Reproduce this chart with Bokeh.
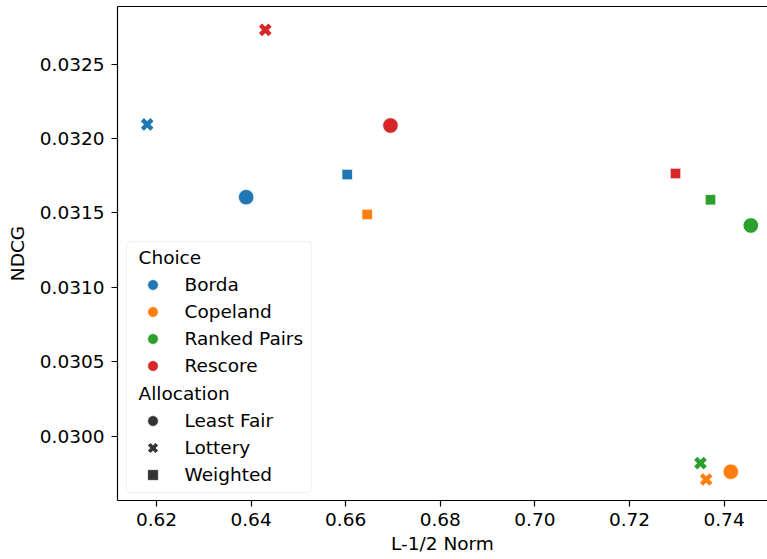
from bokeh.plotting import figure
from bokeh.models import (ColumnDataSource, CDSView, GroupFilter, Legend, LegendItem,
                          BoxAnnotation, FixedTicker, NumeralTickFormatter, LinearAxis, Range1d)
from bokeh.transform import factor_cmap
from bokeh.embed import file_html
from bokeh.resources import INLINE

# ---- data ----
choices = ["Borda", "Copeland", "Ranked Pairs", "Rescore"]
allocations = ["Least Fair", "Lottery", "Weighted"]
choice_colors = ["#1f77b4", "#ff7f0e", "#2ca02c", "#d62728"]

point_choice = ["Borda", "Borda", "Borda",
                "Copeland", "Copeland", "Copeland",
                "Ranked Pairs", "Ranked Pairs", "Ranked Pairs",
                "Rescore", "Rescore", "Rescore"]
point_allocation = ["Least Fair", "Lottery", "Weighted"] * 4
l_half_norm = [0.63896, 0.61803, 0.66032,
               0.74142, 0.73622, 0.66455,
               0.74565, 0.73501, 0.73713,
               0.66947, 0.64300, 0.72973]
ndcg = [0.031606, 0.032094, 0.031758,
        0.029763, 0.029711, 0.031490,
        0.031416, 0.029821, 0.031589,
        0.032087, 0.032729, 0.031765]

x_ticks = [0.62, 0.64, 0.66, 0.68, 0.70, 0.72, 0.74]
y_ticks = [0.0300, 0.0305, 0.0310, 0.0315, 0.0320, 0.0325]
x_limits = (0.61176, 0.74918)
y_limits = (0.029570, 0.032886)

FONT = "DejaVu Sans"
FS = "18.5px"
NAN = float("nan")

source = ColumnDataSource(dict(x=l_half_norm, y=ndcg, choice=point_choice,
                               allocation=point_allocation))

p = figure(width=767, height=559, output_backend="svg", toolbar_location=None,
           x_range=Range1d(*x_limits), y_range=Range1d(*y_limits),
           min_border_left=117, min_border_right=0, min_border_top=6, min_border_bottom=59)
p.outline_line_color = None
p.grid.visible = False
p.background_fill_color = "white"

for ax in (p.xaxis[0], p.yaxis[0]):
    ax.axis_line_color = "black"
    ax.axis_line_width = 1.2
    ax.major_tick_line_color = "black"
    ax.major_tick_line_width = 1.2
    ax.major_tick_out = 6
    ax.major_tick_in = 0
    ax.minor_tick_line_color = None
    ax.major_label_text_font = FONT
    ax.major_label_text_font_size = FS
    ax.major_label_text_color = "black"
    ax.axis_label_text_font = FONT
    ax.axis_label_text_font_size = FS
    ax.axis_label_text_font_style = "normal"
    ax.axis_label_text_color = "black"

p.xaxis[0].ticker = FixedTicker(ticks=x_ticks)
p.xaxis[0].formatter = NumeralTickFormatter(format="0.00")
p.xaxis[0].axis_label = "L-1/2 Norm"
p.xaxis[0].major_label_standoff = 6
p.xaxis[0].axis_label_standoff = 4
p.yaxis[0].ticker = FixedTicker(ticks=y_ticks)
p.yaxis[0].formatter = NumeralTickFormatter(format="0.0000")
p.yaxis[0].axis_label = "NDCG"
p.yaxis[0].major_label_standoff = 7
p.yaxis[0].axis_label_standoff = 9

top_axis = LinearAxis(ticker=FixedTicker(ticks=[]), major_tick_out=0, major_tick_in=0,
                      minor_tick_out=0, minor_tick_in=0, major_label_standoff=0,
                      axis_label_standoff=0, major_label_text_font_size="0px",
                      axis_line_color="black", axis_line_width=1.2)
p.add_layout(top_axis, "above")

cmap = factor_cmap("choice", palette=choice_colors, factors=choices)

def view_for(alloc):
    return CDSView(filter=GroupFilter(column_name="allocation", group=alloc))

p.scatter("x", "y", source=source, view=view_for("Least Fair"), marker="circle",
          size=15.5, fill_color=cmap, line_color="white", line_width=0.75)
p.scatter("x", "y", source=source, view=view_for("Lottery"), marker="x",
          size=13.5, line_color=cmap, line_width=4.5)
p.scatter("x", "y", source=source, view=view_for("Weighted"), marker="square",
          size=10.5, fill_color=cmap, line_color="white", line_width=0.75)

# legend frame
p.add_layout(BoxAnnotation(left=126, right=311, top=241, bottom=492,
                           left_units="canvas", right_units="canvas",
                           top_units="canvas", bottom_units="canvas",
                           fill_color="white", fill_alpha=0.8,
                           line_color="#cccccc", line_width=1, border_radius=4,
                           level="overlay"))

# legend-only renderers (NaN data: nothing drawn in the plot area)
choice_items = []
for name, col in zip(choices, choice_colors):
    r = p.scatter(x=[NAN], y=[NAN], marker="circle", fill_color=col, line_color="white",
                  line_width=0.75)
    choice_items.append(LegendItem(label=name, renderers=[r]))

gray = "#333333"
alloc_items = []
r = p.scatter(x=[NAN], y=[NAN], marker="circle", fill_color=gray, line_color="white",
              line_width=0.75)
alloc_items.append(LegendItem(label=allocations[0], renderers=[r]))
r = p.scatter(x=[NAN], y=[NAN], marker="x", line_color=gray, line_width=3.6)
alloc_items.append(LegendItem(label=allocations[1], renderers=[r]))
r = p.scatter(x=[NAN], y=[NAN], marker="square", fill_color=gray, line_color="white",
              line_width=0.75)
alloc_items.append(LegendItem(label=allocations[2], renderers=[r]))

def make_legend(title, items, loc):
    return Legend(title=title, items=items, location=loc, margin=0, padding=0,
                  border_line_color=None, background_fill_alpha=0,
                  glyph_width=27, glyph_height=27, label_height=27, spacing=0,
                  label_standoff=19, title_standoff=3,
                  label_text_font=FONT, label_text_font_size=FS,
                  title_text_font=FONT, title_text_font_size=FS,
                  title_text_font_style="normal", label_text_color="black",
                  title_text_color="black")

p.add_layout(make_legend("Choice", choice_items, (21.5, 121.5)), "center")
p.add_layout(make_legend("Allocation", alloc_items, (21.5, 12.5)), "center")

open("out.html", "w").write(file_html(p, INLINE))
